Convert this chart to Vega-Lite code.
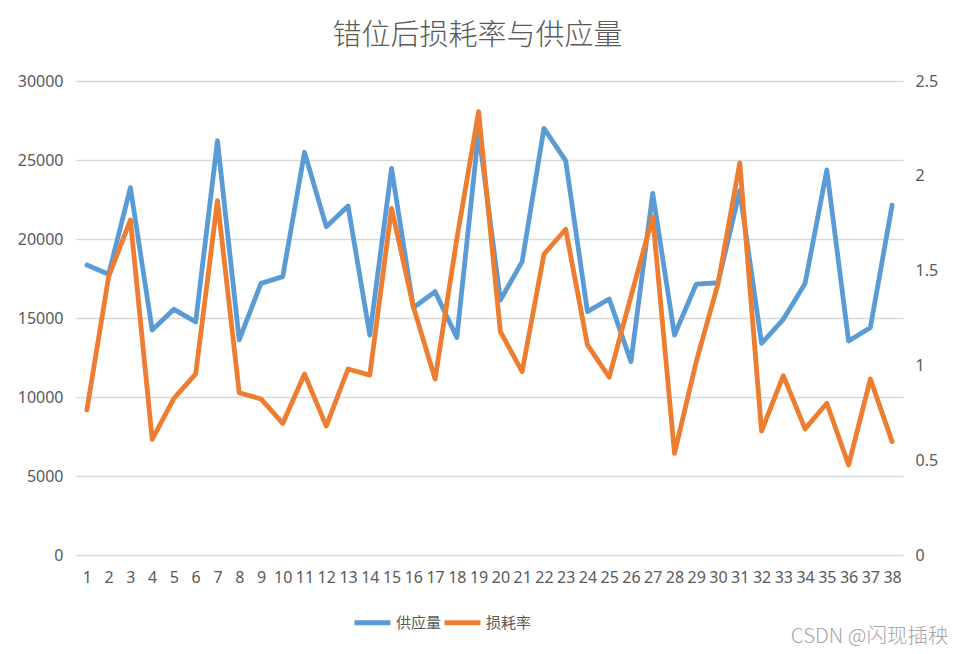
{
  "$schema": "https://vega.github.io/schema/vega-lite/v6.json",
  "width": 827,
  "height": 474,
  "autosize": {"type": "none"},
  "padding": {"left": 76, "top": 81, "right": 52, "bottom": 99},
  "background": "white",
  "title": {
    "text": "错位后损耗率与供应量",
    "font": "Noto Sans CJK SC",
    "fontSize": 29,
    "fontWeight": 300,
    "color": "#595959",
    "anchor": "middle",
    "dx": -12,
    "offset": 22
  },
  "config": {
    "view": {"stroke": null},
    "axis": {
      "labelFont": "Noto Sans",
      "labelFontSize": 16,
      "labelColor": "#595959",
      "ticks": false,
      "domain": false,
      "gridColor": "#d9d9d9",
      "gridWidth": 1.3
    },
    "legend": {
      "labelFont": "Noto Sans CJK SC",
      "labelFontSize": 15,
      "labelColor": "#595959"
    }
  },
  "data": {
    "values": [
      {"x": 1, "series": "供应量", "value": 18350},
      {"x": 2, "series": "供应量", "value": 17770},
      {"x": 3, "series": "供应量", "value": 23250},
      {"x": 4, "series": "供应量", "value": 14240},
      {"x": 5, "series": "供应量", "value": 15550},
      {"x": 6, "series": "供应量", "value": 14750},
      {"x": 7, "series": "供应量", "value": 26220},
      {"x": 8, "series": "供应量", "value": 13610},
      {"x": 9, "series": "供应量", "value": 17190},
      {"x": 10, "series": "供应量", "value": 17620},
      {"x": 11, "series": "供应量", "value": 25490},
      {"x": 12, "series": "供应量", "value": 20780},
      {"x": 13, "series": "供应量", "value": 22090},
      {"x": 14, "series": "供应量", "value": 13920},
      {"x": 15, "series": "供应量", "value": 24470},
      {"x": 16, "series": "供应量", "value": 15650},
      {"x": 17, "series": "供应量", "value": 16670},
      {"x": 18, "series": "供应量", "value": 13760},
      {"x": 19, "series": "供应量", "value": 26790},
      {"x": 20, "series": "供应量", "value": 16140},
      {"x": 21, "series": "供应量", "value": 18570},
      {"x": 22, "series": "供应量", "value": 27000},
      {"x": 23, "series": "供应量", "value": 24960},
      {"x": 24, "series": "供应量", "value": 15400},
      {"x": 25, "series": "供应量", "value": 16200},
      {"x": 26, "series": "供应量", "value": 12240},
      {"x": 27, "series": "供应量", "value": 22890},
      {"x": 28, "series": "供应量", "value": 13920},
      {"x": 29, "series": "供应量", "value": 17150},
      {"x": 30, "series": "供应量", "value": 17230},
      {"x": 31, "series": "供应量", "value": 23050},
      {"x": 32, "series": "供应量", "value": 13400},
      {"x": 33, "series": "供应量", "value": 14920},
      {"x": 34, "series": "供应量", "value": 17190},
      {"x": 35, "series": "供应量", "value": 24370},
      {"x": 36, "series": "供应量", "value": 13540},
      {"x": 37, "series": "供应量", "value": 14390},
      {"x": 38, "series": "供应量", "value": 22150},
      {"x": 1, "series": "损耗率", "value": 0.765},
      {"x": 2, "series": "损耗率", "value": 1.468},
      {"x": 3, "series": "损耗率", "value": 1.767},
      {"x": 4, "series": "损耗率", "value": 0.61},
      {"x": 5, "series": "损耗率", "value": 0.826},
      {"x": 6, "series": "损耗率", "value": 0.955},
      {"x": 7, "series": "损耗率", "value": 1.869},
      {"x": 8, "series": "损耗率", "value": 0.856},
      {"x": 9, "series": "损耗率", "value": 0.823},
      {"x": 10, "series": "损耗率", "value": 0.694},
      {"x": 11, "series": "损耗率", "value": 0.955},
      {"x": 12, "series": "损耗率", "value": 0.68},
      {"x": 13, "series": "损耗率", "value": 0.981},
      {"x": 14, "series": "损耗率", "value": 0.949},
      {"x": 15, "series": "损耗率", "value": 1.828},
      {"x": 16, "series": "损耗率", "value": 1.31},
      {"x": 17, "series": "损耗率", "value": 0.928},
      {"x": 18, "series": "损耗率", "value": 1.668},
      {"x": 19, "series": "损耗率", "value": 2.338},
      {"x": 20, "series": "损耗率", "value": 1.178},
      {"x": 21, "series": "损耗率", "value": 0.967},
      {"x": 22, "series": "损耗率", "value": 1.586},
      {"x": 23, "series": "损耗率", "value": 1.718},
      {"x": 24, "series": "损耗率", "value": 1.108},
      {"x": 25, "series": "损耗率", "value": 0.938},
      {"x": 26, "series": "损耗率", "value": 1.364},
      {"x": 27, "series": "损耗率", "value": 1.784},
      {"x": 28, "series": "损耗率", "value": 0.536},
      {"x": 29, "series": "损耗率", "value": 1.02},
      {"x": 30, "series": "损耗率", "value": 1.43},
      {"x": 31, "series": "损耗率", "value": 2.068},
      {"x": 32, "series": "损耗率", "value": 0.654},
      {"x": 33, "series": "损耗率", "value": 0.946},
      {"x": 34, "series": "损耗率", "value": 0.665},
      {"x": 35, "series": "损耗率", "value": 0.8},
      {"x": 36, "series": "损耗率", "value": 0.475},
      {"x": 37, "series": "损耗率", "value": 0.928},
      {"x": 38, "series": "损耗率", "value": 0.598}
    ]
  },
  "encoding": {
    "x": {
      "field": "x",
      "type": "ordinal",
      "scale": {"type": "point", "padding": 0.5},
      "axis": {
        "labelAngle": 0,
        "labelPadding": 14,
        "grid": false,
        "title": "CSDN @闪现插秧",
        "titleFont": "Noto Sans CJK SC",
        "titleFontSize": 20.5,
        "titleFontWeight": 300,
        "titleColor": "#a6a6a6",
        "titleAnchor": "end",
        "titleAlign": "right",
        "titleBaseline": "alphabetic",
        "titleX": 872,
        "titleY": 87
      }
    },
    "color": {
      "field": "series",
      "type": "nominal",
      "scale": {"domain": ["供应量", "损耗率"], "range": ["#5B9BD5", "#ED7D31"]},
      "legend": {
        "title": null,
        "orient": "none",
        "direction": "horizontal",
        "legendX": 276,
        "legendY": 521,
        "symbolType": "stroke",
        "symbolSize": 1296,
        "symbolStrokeWidth": 5,
        "labelOffset": 3,
        "columnPadding": -11
      }
    }
  },
  "layer": [
    {
      "transform": [{"filter": "datum.series === '供应量'"}],
      "mark": {"type": "line", "strokeWidth": 4.8, "strokeJoin": "round", "strokeCap": "round"},
      "encoding": {
        "y": {
          "field": "value",
          "type": "quantitative",
          "scale": {"domain": [0, 30000], "nice": false},
          "axis": {
            "title": null,
            "values": [0, 5000, 10000, 15000, 20000, 25000, 30000],
            "format": "d",
            "labelPadding": 13,
            "grid": true
          }
        }
      }
    },
    {
      "transform": [{"filter": "datum.series === '损耗率'"}],
      "mark": {"type": "line", "strokeWidth": 4.8, "strokeJoin": "round", "strokeCap": "round"},
      "encoding": {
        "y": {
          "field": "value",
          "type": "quantitative",
          "scale": {"domain": [0, 2.5], "nice": false},
          "axis": {
            "orient": "right",
            "title": null,
            "values": [0, 0.5, 1, 1.5, 2, 2.5],
            "format": "~g",
            "labelPadding": 12,
            "grid": false
          }
        }
      }
    }
  ],
  "resolve": {"scale": {"y": "independent"}}
}
